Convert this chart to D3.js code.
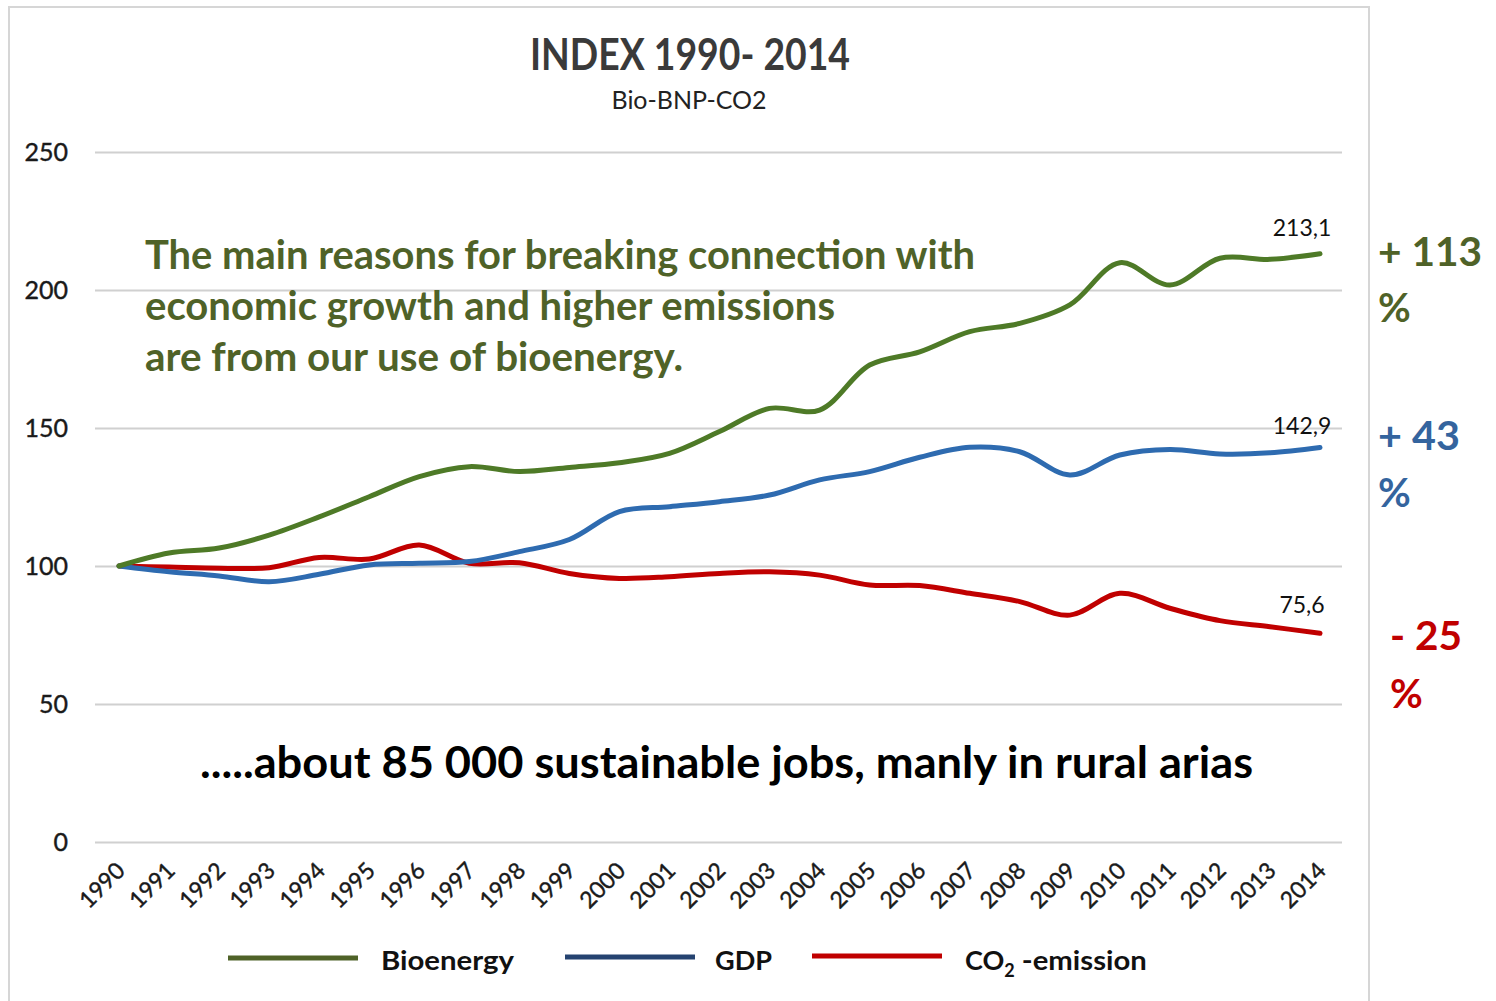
<!DOCTYPE html>
<html><head><meta charset="utf-8">
<script src="https://cdn.jsdelivr.net/npm/d3@7"></script>
<style>html,body{margin:0;padding:0;background:#fff;}svg{display:block;font-family:Lato,"Open Sans",sans-serif;}</style>
</head><body>
<svg id="chart" width="1496" height="1001"></svg>
<script>
const years = d3.range(1990, 2015).map(String);
const bioenergy = [100,104.7,106.5,111.2,117.8,125.1,132.4,136,134.2,135.7,137.4,140.8,148.7,157.1,156.5,172.8,177.6,184.9,187.9,194.6,209.9,201.8,211.5,211.1,213.1];
const gdp = [100,97.9,96.4,94.3,97,100.4,101,101.6,105.2,109.6,119.7,121.5,123.3,125.7,131.2,134.2,139.4,143,141.4,133,140.2,142.2,140.6,141,142.9];
const co2 = [100,99.6,99.2,99.4,103.1,102.5,107.6,101,101.2,97.3,95.5,96.1,97.3,97.9,96.7,93.1,92.9,90.1,87.1,82.2,90.1,84.7,80.2,78,75.6];
const yTicks = [0,50,100,150,200,250];
const seriesNames = ["Bioenergy","GDP","CO2-emission"];
const endLabels = ["213,1","142,9","75,6"];
const changeLabels = [["+ 113","%"],["+ 43","%"],["- 25","%"]];
const noteLines = ["The main reasons for breaking connection with","economic growth and higher emissions","are from our use of bioenergy."];
const jobsText = ".....about 85 000 sustainable jobs, manly in rural arias";
const title = "INDEX 1990- 2014";
const subtitle = "Bio-BNP-CO2";

const svg = d3.select("#chart");
const lineColors = ["#4E7A27","#2E6BB0","#C00000"];
const legendColors = ["#4F6228","#254370","#C00000"];
const textColors = ["#4F6228","#34649E","#C00000"];

// frame
svg.append("rect").attr("x",9).attr("y",7).attr("width",1360).attr("height",1010)
  .attr("fill","none").attr("stroke","#d6d6d6").attr("stroke-width",2);

const x = d3.scalePoint().domain(years).range([119,1320]);
const y = d3.scaleLinear().domain([0,250]).range([842,152]);

// grid
const yAxis = d3.axisLeft(y).tickValues(yTicks).tickSize(-(1342-95)).tickPadding(27);
const gy = svg.append("g").attr("transform","translate(95,0)").call(yAxis);
gy.select(".domain").remove();
gy.selectAll(".tick line").attr("stroke","#d0d0d0").attr("stroke-width",2);
gy.selectAll(".tick text").attr("font-size",25).attr("fill","#1a1a1a").attr("font-family","Lato, sans-serif")
  .style("paint-order","stroke").attr("stroke","#1a1a1a").attr("stroke-width",0.4);

// x axis labels
const xAxis = d3.axisBottom(x).tickSize(0).tickPadding(0);
const gx = svg.append("g").attr("transform","translate(0,842)").call(xAxis);
gx.select(".domain").remove();
gx.selectAll(".tick text")
  .attr("font-size",23).attr("fill","#1a1a1a").attr("font-family","Lato, sans-serif")
  .attr("stroke","#1a1a1a").attr("stroke-width",0.4)
  .attr("text-anchor","end").attr("dy",0)
  .attr("transform","translate(7,30) rotate(-45)");

// title
svg.append("text").attr("x",690).attr("y",70).attr("text-anchor","middle")
  .attr("font-size",44).attr("font-weight","bold").attr("fill","#3a3a3a")
  .attr("textLength",320).attr("lengthAdjust","spacingAndGlyphs").text(title);
svg.append("text").attr("x",689).attr("y",109).attr("text-anchor","middle")
  .attr("font-size",25).attr("fill","#222")
  .attr("textLength",155).attr("lengthAdjust","spacingAndGlyphs").text(subtitle);

// lines
const line = d3.line().x((d,i)=>x(years[i])).y(d=>y(d)).curve(d3.curveCatmullRom.alpha(0.5));
const allSeries = [bioenergy,gdp,co2];
[2,1,0].forEach(k=>{
  svg.append("path").datum(allSeries[k]).attr("d",line).attr("fill","none")
    .attr("stroke",lineColors[k]).attr("stroke-width",5).attr("stroke-linecap","round").attr("stroke-linejoin","round");
});

// end labels
const endOffsets = [-18,-14,-20];
allSeries.forEach((s,k)=>{
  svg.append("text").attr("x",x(years[24])-18).attr("y",y(s[24])+endOffsets[k])
    .attr("text-anchor","middle").attr("font-size",23).attr("fill","#111").text(endLabels[k]);
});

// note text
const noteLens = [830,690,538];
noteLines.forEach((t,i)=>{
  svg.append("text").attr("x",145).attr("y",269+i*51).attr("font-size",40).attr("font-weight","bold")
    .attr("fill","#4F6228").attr("textLength",noteLens[i]).attr("lengthAdjust","spacingAndGlyphs").text(t);
});
svg.append("text").attr("x",200).attr("y",778).attr("font-size",44).attr("font-weight","bold")
  .attr("fill","#000").attr("textLength",1053).attr("lengthAdjust","spacingAndGlyphs").text(jobsText);

// change labels at right
const chPos = [[1378,266,1378,322,104],[1378,450,1378,507,82],[1390,650,1390,708,72]];
changeLabels.forEach((c,k)=>{
  const p = chPos[k];
  svg.append("text").attr("x",p[0]).attr("y",p[1]).attr("font-size",40).attr("font-weight","bold")
    .attr("fill",textColors[k]).attr("textLength",p[4]).attr("lengthAdjust","spacingAndGlyphs").text(c[0]);
  svg.append("text").attr("x",p[2]).attr("y",p[3]).attr("font-size",40).attr("font-weight","bold")
    .attr("fill",textColors[k]).text(c[1]);
});

// legend
const lg = [[228,958,381,"Bioenergy",133],[565,957,715,"GDP",57],[812,956,965,null,181]];
lg.forEach((l,k)=>{
  svg.append("line").attr("x1",l[0]).attr("x2",l[0]+130).attr("y1",l[1]).attr("y2",l[1])
    .attr("stroke",legendColors[k]).attr("stroke-width",5);
  const t = svg.append("text").attr("x",l[2]).attr("y",970).attr("font-size",27).attr("font-weight","bold").attr("fill","#111");
  if(l[3]) { t.attr("textLength",l[4]).attr("lengthAdjust","spacingAndGlyphs").text(l[3]); }
  else {
    t.append("tspan").text("CO");
    t.append("tspan").attr("font-size",18).attr("dy",7).text("2");
    t.append("tspan").attr("dy",-7).attr("textLength",132).attr("lengthAdjust","spacingAndGlyphs").text(" -emission");
  }
});
</script>
</body></html>
